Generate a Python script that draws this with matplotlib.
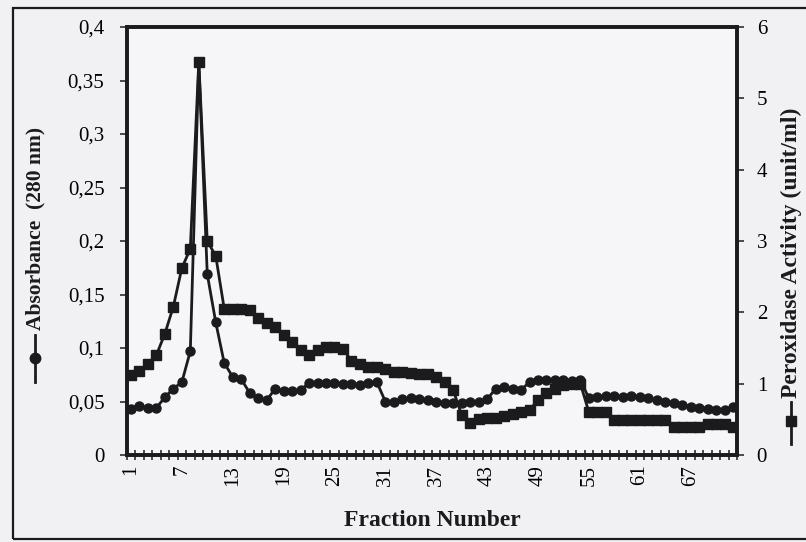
import matplotlib
matplotlib.use("Agg")
import matplotlib.pyplot as plt
from matplotlib.lines import Line2D
from matplotlib.patches import Rectangle

# ---------------------------------------------------------------------------
# Data
# ---------------------------------------------------------------------------
fractions = list(range(1, 73))

absorbance = [
    0.043, 0.046, 0.044, 0.044, 0.054, 0.062, 0.068, 0.097, 0.367, 0.169,
    0.124, 0.086, 0.073, 0.071, 0.058, 0.053, 0.051, 0.062, 0.060, 0.060,
    0.061, 0.067, 0.067, 0.067, 0.067, 0.066, 0.066, 0.065, 0.067, 0.068,
    0.050, 0.050, 0.052, 0.053, 0.052, 0.051, 0.050, 0.049, 0.049, 0.049,
    0.050, 0.050, 0.052, 0.062, 0.064, 0.062, 0.061, 0.068, 0.070, 0.070,
    0.070, 0.070, 0.069, 0.070, 0.053, 0.054, 0.055, 0.055, 0.054, 0.055,
    0.054, 0.053, 0.051, 0.050, 0.049, 0.047, 0.045, 0.044, 0.043, 0.042,
    0.042, 0.045,
]

activity = [
    1.12, 1.18, 1.28, 1.40, 1.70, 2.08, 2.62, 2.89, 5.51, 3.00,
    2.79, 2.05, 2.05, 2.04, 2.03, 1.92, 1.85, 1.79, 1.68, 1.58,
    1.47, 1.40, 1.47, 1.51, 1.51, 1.49, 1.32, 1.27, 1.24, 1.23,
    1.21, 1.17, 1.16, 1.15, 1.14, 1.13, 1.09, 1.02, 0.91, 0.56,
    0.45, 0.50, 0.52, 0.52, 0.55, 0.57, 0.60, 0.63, 0.77, 0.87,
    0.93, 0.98, 1.00, 1.00, 0.60, 0.60, 0.60, 0.49, 0.49, 0.49,
    0.49, 0.49, 0.49, 0.49, 0.39, 0.39, 0.39, 0.39, 0.43, 0.43,
    0.43, 0.39,
]

x_tick_values = [1, 7, 13, 19, 25, 31, 37, 43, 49, 55, 61, 67]
left_ticks = [0, 0.05, 0.1, 0.15, 0.2, 0.25, 0.3, 0.35, 0.4]
left_tick_labels = ["0", "0,05", "0,1", "0,15", "0,2", "0,25", "0,3", "0,35", "0,4"]
right_ticks = [0, 1, 2, 3, 4, 5, 6]

# ---------------------------------------------------------------------------
# Style
# ---------------------------------------------------------------------------
plt.rcParams.update({
    "font.family": "serif",
    "font.serif": ["Liberation Serif", "DejaVu Serif"],
    "font.size": 15,
})

INK = "#1b1b1d"
PAPER = "#f1f1f4"

fig = plt.figure(figsize=(8.06, 5.42), dpi=100, facecolor=PAPER)
W, H = 806, 542

# outer chart frame (right edge falls outside the scan)
fig.patches.append(Rectangle((13 / W, 1 - 539 / H), 820 / W, 531 / H,
                             transform=fig.transFigure, fill=False,
                             edgecolor=INK, linewidth=1.6, clip_on=False))

ax1 = fig.add_axes([126.7 / W, 1 - 455 / H, 610.6 / W, 428 / H])
ax1.set_facecolor("#f6f6f8")
ax2 = ax1.twinx()

ax1.plot(fractions, absorbance, color=INK, linewidth=2.0, marker="o",
         markersize=6.5, markerfacecolor=INK, markeredgecolor=INK)
ax2.plot(fractions, activity, color=INK, linewidth=2.0, marker="s",
         markersize=6.8, markerfacecolor=INK, markeredgecolor=INK)

ax1.set_xlim(0.5, 72.5)
ax1.set_ylim(0, 0.4)
ax2.set_ylim(0, 6)

ax1.set_yticks(left_ticks)
ax1.set_yticklabels(left_tick_labels)
ax2.set_yticks(right_ticks)
ax2.set_yticklabels([str(v) for v in right_ticks])

ax1.set_xticks(x_tick_values)
ax1.set_xticklabels([str(v) for v in x_tick_values], rotation=90)
ax1.set_xticks([n + 0.5 for n in range(0, 73)], minor=True)
ax1.tick_params(axis="x", which="major", length=0, pad=7, labelsize=15)
ax1.tick_params(axis="x", which="minor", direction="inout", length=7,
                width=1.1, color=INK)
ax1.tick_params(axis="y", direction="out", length=5, width=1.1,
                color=INK, pad=11, labelsize=15)
ax2.tick_params(axis="y", direction="out", length=5, width=1.1,
                color=INK, pad=9, labelsize=15)

for ax in (ax1, ax2):
    for sp in ax.spines.values():
        sp.set_linewidth(2.6)
        sp.set_color(INK)

# axis titles with their legend keys
fig.text(432 / W, 1 - 521 / H, "Fraction Number", ha="center", va="center",
         fontsize=17, fontweight="bold", color=INK)

fig.text(35 / W, 1 - 330 / H, "Absorbance  (280 nm)", rotation=90,
         ha="center", va="bottom", fontsize=15.5, fontweight="bold", color=INK)
fig.lines.append(Line2D([35 / W, 35 / W], [1 - 335 / H, 1 - 382 / H],
                        transform=fig.transFigure, color=INK, linewidth=2.0))
fig.lines.append(Line2D([35 / W], [1 - 358 / H], transform=fig.transFigure,
                        marker="o", markersize=7.5, color=INK))

fig.text(791 / W, 1 - 398 / H, "Peroxidase Activity (unit/ml)", rotation=90,
         ha="center", va="bottom", fontsize=17, fontweight="bold", color=INK)
fig.lines.append(Line2D([791 / W, 791 / W], [1 - 402 / H, 1 - 444 / H],
                        transform=fig.transFigure, color=INK, linewidth=2.0))
fig.lines.append(Line2D([791 / W], [1 - 421 / H], transform=fig.transFigure,
                        marker="s", markersize=7.5, color=INK))

fig.savefig("out.png", dpi=100, facecolor=PAPER)
